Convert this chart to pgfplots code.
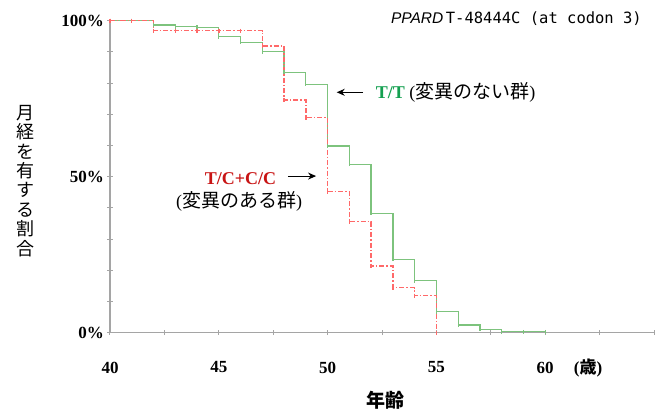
\documentclass[border=0pt]{standalone}
\usepackage{fontspec}
\setmainfont{Liberation Serif}
\newfontfamily\cjk{Noto Sans CJK JP}
\newfontfamily\sansf{Liberation Sans}
\newfontfamily\monof{DejaVu Sans Mono}
\usepackage{pgfplots}
\pgfplotsset{compat=1.18}
\usetikzlibrary{arrows.meta}
\definecolor{lgreen}{RGB}{125,195,125}
\definecolor{lred}{RGB}{255,105,105}
\definecolor{tgreen}{RGB}{20,160,80}
\definecolor{tred}{RGB}{200,20,20}
\definecolor{axgray}{RGB}{165,165,165}

\begin{document}
\begin{tikzpicture}
\path[use as bounding box] (0,0) rectangle (664pt,414pt);
\begin{axis}[
  at={(110pt,81.3pt)}, anchor=south west,
  scale only axis, width=544pt, height=312pt,
  xmin=40, xmax=65, ymin=0, ymax=100,
  axis x line=bottom, axis y line=left,
  axis line style={-, axgray, line width=1.3pt},
  xtick={40,45,50,55,60}, xticklabels={40,45,50,55,60},
  minor xtick={42.5,47.5,52.5,57.5,62.5,65},
  ytick={0,50,100}, yticklabels={0\%,50\%,100\%},
  minor ytick={10,20,30,40,60,70,80,90},
  tick align=center, major tick length=5pt, minor tick length=5pt,
  tick style={axgray, line width=1pt},
  tick label style={font=\bfseries\fontsize{17}{17}\selectfont, text=black},
  xticklabel style={yshift=-23pt},
  clip=false,
]
\addplot[const plot, draw=lgreen, line width=1.3pt, mark=|, mark size=2pt, mark options={solid, draw=lgreen}] coordinates {
(40,100) (41,100) (42,98.6) (43,98.1) (44,97.9) (45,94.9) (46,93.1) (47,90.1)
(48,83.5) (49,79.6) (50,59.8) (51,54.0) (52,38.3) (53,23.5) (54,16.7) (55,6.7)
(56,2.5) (57,1.1) (58,0.3) (59,0.3) (60,0.3)
};
\addplot[const plot, draw=lred, line width=1.4pt, line cap=butt, dash pattern=on 5pt off 2pt on 1.5pt off 2pt, mark=|, mark size=2pt, mark options={solid, draw=lred, fill=lred}] coordinates {
(40,100) (41,100) (42,96.8) (43,96.8) (44,96.8) (45,96.8) (46,96.8) (47,91.9)
(48,74.6) (49,68.9) (50,45.2) (51,35.6) (52,21.4) (53,14.4) (54,11.9) (55,0)
};
% annotations
\draw[-{Stealth[length=8pt,width=7pt]}, line width=1pt] (axis cs:51.63,77.05) -- (axis cs:50.42,77.05);
\node[anchor=west, inner sep=0pt] at (axis cs:52.21,77.1)
  {\fontsize{18}{18}\selectfont\textcolor{tgreen}{\bfseries T/T} ({\cjk\fontsize{19}{19}\selectfont 変異のない群})};
\draw[-{Stealth[length=8pt,width=7pt]}, line width=1pt] (axis cs:48.18,50.2) -- (axis cs:49.47,50.2);
\node[inner sep=0pt] at (axis cs:46.0,49.3)
  {\fontsize{18}{18}\selectfont\textcolor{tred}{\bfseries T/C+C/C}};
\node[inner sep=0pt] at (axis cs:45.93,42.0)
  {\fontsize{18}{18}\selectfont ({\cjk\fontsize{19}{19}\selectfont 変異のある群})};
\node[anchor=east, inner sep=0pt] at (axis cs:64.45,100.5)
  {{\sansf\itshape\fontsize{15.5}{15.5}\selectfont PPARD} {\monof\fontsize{15.5}{15.5}\selectfont T-48444C (at codon 3)}};
\node[align=center, inner sep=0pt, font=\cjk\fontsize{18}{19.4}\selectfont] at (axis cs:36.1,48.7)
  {月\\経\\を\\有\\す\\る\\割\\合};
\node[inner sep=0pt, font=\cjk\bfseries\fontsize{19}{19}\selectfont] at (axis cs:52.64,-21.5) {年齢};
\node[inner sep=0pt, font=\bfseries\fontsize{17}{17}\selectfont] at (axis cs:61.97,-11.3) {({\cjk 歳})};
\end{axis}
\end{tikzpicture}
\end{document}
